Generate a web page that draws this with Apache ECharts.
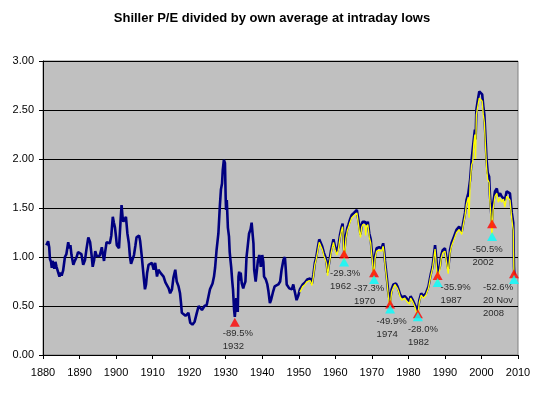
<!DOCTYPE html>
<html><head><meta charset="utf-8">
<script src="https://cdn.jsdelivr.net/npm/echarts@6/dist/echarts.min.js"></script>
<style>html,body{margin:0;padding:0;background:#fff}#c{width:544px;height:395px}</style>
</head><body><div id="c"></div>
<script>
const chartTitle = "Shiller P/E divided by own average at intraday lows";
const xMin = 1880, xMax = 2010, xStep = 10;
const yMin = 0, yMax = 3, yStep = 0.5;

// Shiller P/E / own average (month-end), [year, value]
const navyPoints = [
[1880.9,1.12],[1881.1,1.10],[1881.4,1.16],[1881.7,1.10],[1881.9,0.98],[1882.2,0.95],[1882.4,0.89],[1882.6,0.96],
[1882.8,0.93],[1883.1,0.88],[1883.4,0.95],[1883.7,0.90],[1884.0,0.92],[1884.5,0.80],[1884.8,0.84],[1885.1,0.81],
[1885.5,0.86],[1886.0,1.00],[1886.4,1.03],[1886.9,1.15],[1887.2,1.09],[1887.5,1.12],[1887.8,1.02],[1888.3,0.92],
[1888.7,0.96],[1889.2,1.00],[1889.6,1.05],[1890.1,1.06],[1890.5,1.03],[1891.0,0.92],[1891.5,0.97],[1891.9,1.08],
[1892.4,1.20],[1892.7,1.22],[1892.9,1.15],[1893.3,1.02],[1893.6,0.90],[1894.0,0.97],[1894.3,1.06],[1894.7,1.01],
[1895.1,1.03],[1895.5,1.01],[1896.1,1.10],[1896.4,1.02],[1896.7,0.96],[1897.0,1.05],[1897.4,1.15],[1897.8,1.13],
[1898.3,1.14],[1898.7,1.22],[1899.1,1.41],[1899.4,1.35],[1899.7,1.30],[1900.0,1.20],[1900.2,1.12],[1900.6,1.14],
[1900.8,1.09],[1901.2,1.35],[1901.5,1.53],[1901.8,1.40],[1902.0,1.36],[1902.4,1.38],[1902.7,1.41],[1903.1,1.24],
[1903.5,1.14],[1903.8,1.00],[1904.1,0.93],[1904.5,0.95],[1904.9,1.02],[1905.3,1.12],[1905.6,1.20],[1906.0,1.21],
[1906.3,1.22],[1906.6,1.16],[1907.0,1.02],[1907.3,0.90],[1907.6,0.78],[1907.9,0.67],[1908.2,0.72],[1908.5,0.84],
[1908.9,0.92],[1909.4,0.92],[1909.8,0.94],[1910.3,0.87],[1910.7,0.94],[1911.2,0.80],[1911.6,0.87],[1912.1,0.84],
[1912.5,0.85],[1913.0,0.80],[1913.5,0.74],[1913.9,0.72],[1914.4,0.68],[1914.8,0.63],[1915.3,0.67],[1915.7,0.79],
[1916.2,0.87],[1916.6,0.75],[1917.1,0.70],[1917.5,0.63],[1917.8,0.52],[1918.0,0.43],[1918.5,0.41],[1919.0,0.40],
[1919.4,0.39],[1919.8,0.43],[1920.3,0.33],[1920.6,0.31],[1920.9,0.31],[1921.2,0.33],[1921.5,0.34],[1922.1,0.43],
[1922.6,0.50],[1923.0,0.51],[1923.5,0.46],[1923.9,0.48],[1924.2,0.50],[1924.8,0.51],[1925.3,0.60],[1925.7,0.67],
[1926.1,0.69],[1926.4,0.73],[1926.8,0.80],[1927.1,0.89],[1927.5,1.07],[1928.0,1.24],[1928.4,1.52],[1928.7,1.69],
[1929.0,1.75],[1929.2,1.89],[1929.5,1.99],[1929.8,1.96],[1930.0,1.60],[1930.1,1.48],[1930.3,1.58],[1930.6,1.30],
[1930.9,1.21],[1931.1,1.05],[1931.3,0.97],[1931.5,0.90],[1931.8,0.75],[1932.0,0.67],[1932.3,0.46],[1932.5,0.39],
[1932.9,0.58],[1933.1,0.48],[1933.3,0.44],[1933.5,0.80],[1933.7,0.85],[1933.9,0.76],[1934.1,0.84],[1934.4,0.73],
[1934.8,0.68],[1935.1,0.72],[1935.4,0.75],[1935.7,1.00],[1936.0,1.10],[1936.4,1.24],[1936.8,1.28],[1937.1,1.35],
[1937.4,1.22],[1937.6,1.14],[1937.8,0.87],[1938.2,0.75],[1938.5,0.85],[1938.8,0.96],[1939.2,1.02],[1939.4,0.98],
[1939.6,0.90],[1940.0,1.02],[1940.3,0.95],[1940.5,0.80],[1940.8,0.82],[1941.0,0.77],[1941.4,0.72],[1941.7,0.65],
[1942.1,0.53],[1942.4,0.56],[1942.6,0.58],[1943.0,0.65],[1943.4,0.70],[1943.8,0.68],[1944.4,0.72],[1944.9,0.75],
[1945.3,0.87],[1945.8,0.97],[1946.2,1.00],[1946.4,0.90],[1946.7,0.72],[1947.0,0.70],[1947.4,0.68],[1947.8,0.66],
[1948.1,0.67],[1948.5,0.72],[1948.7,0.68],[1949.0,0.63],[1949.4,0.56],[1949.9,0.61],[1950.3,0.67],[1950.7,0.69],
[1951.1,0.72],[1951.7,0.74],[1952.3,0.77],[1952.8,0.78],[1953.1,0.78],[1953.6,0.73],[1954.0,0.82],[1954.4,0.94],
[1954.8,1.00],[1955.1,1.07],[1955.6,1.18],[1956.0,1.20],[1956.4,1.11],[1956.9,1.04],[1957.3,1.00],[1957.6,0.96],
[1957.9,0.84],[1958.3,0.94],[1958.8,1.06],[1959.2,1.13],[1959.5,1.18],[1959.9,1.11],[1960.4,1.05],[1960.8,1.10],
[1961.3,1.23],[1961.7,1.30],[1962.0,1.34],[1962.2,1.20],[1962.45,1.05],[1962.9,1.22],[1963.3,1.30],[1963.6,1.33],
[1964.0,1.38],[1964.5,1.43],[1965.1,1.45],[1965.5,1.44],[1965.9,1.48],[1966.3,1.47],[1966.6,1.31],[1966.9,1.23],
[1967.2,1.33],[1967.5,1.36],[1968.1,1.36],[1968.5,1.33],[1968.9,1.36],[1969.3,1.24],[1969.7,1.18],[1969.9,1.09],
[1970.2,0.98],[1970.5,0.86],[1970.9,1.02],[1971.3,1.09],[1971.7,1.11],[1972.0,1.10],[1972.4,1.11],[1972.7,1.09],
[1973.1,1.14],[1973.4,1.05],[1973.6,0.96],[1974.1,0.79],[1974.5,0.64],[1974.95,0.54],[1975.4,0.67],[1975.9,0.72],
[1976.3,0.74],[1976.6,0.73],[1977.0,0.70],[1977.3,0.67],[1977.7,0.62],[1978.2,0.59],[1978.6,0.58],[1979.0,0.60],
[1979.3,0.58],[1979.7,0.57],[1980.0,0.56],[1980.3,0.55],[1980.6,0.60],[1980.9,0.59],[1981.2,0.56],[1981.5,0.54],
[1981.8,0.51],[1982.2,0.49],[1982.55,0.45],[1983.0,0.56],[1983.5,0.63],[1983.8,0.62],[1984.1,0.60],[1984.5,0.61],
[1984.8,0.63],[1985.2,0.67],[1985.5,0.70],[1985.9,0.78],[1986.1,0.82],[1986.6,0.90],[1986.9,0.92],[1987.3,1.12],
[1987.7,1.11],[1988.0,0.84],[1988.3,0.86],[1988.6,0.90],[1989.0,1.02],[1989.4,1.07],[1990.0,1.09],[1990.5,1.07],
[1990.9,0.88],[1991.4,1.07],[1991.8,1.14],[1992.5,1.21],[1993.2,1.28],[1993.9,1.31],[1994.6,1.26],[1995.0,1.35],
[1995.5,1.45],[1995.9,1.58],[1996.4,1.65],[1996.9,1.79],[1997.3,1.99],[1997.6,2.01],[1997.9,2.20],[1998.2,2.30],
[1998.4,2.20],[1998.6,2.50],[1999.0,2.60],[1999.4,2.69],[1999.8,2.71],[2000.2,2.66],[2000.5,2.54],[2000.8,2.45],
[2001.0,2.30],[2001.4,1.99],[2001.7,1.86],[2002.1,1.82],[2002.3,1.65],[2002.6,1.48],[2002.85,1.36],[2003.2,1.55],
[2003.7,1.67],[2004.2,1.70],[2004.6,1.62],[2005.1,1.65],[2005.5,1.62],[2006.0,1.64],[2006.4,1.58],[2006.9,1.67],
[2007.4,1.69],[2007.8,1.65],[2008.3,1.45],[2008.7,1.35],[2008.9,0.90],[2009.0,0.82]
];

// Same ratio at intraday lows, [year, value]
const yellowPoints = [
[1950.3,0.64],[1950.7,0.67],[1951.1,0.70],[1951.7,0.72],[1952.3,0.75],[1952.8,0.76],[1953.1,0.76],[1953.6,0.71],
[1954.0,0.80],[1954.4,0.92],[1954.8,0.98],[1955.1,1.04],[1955.6,1.15],[1956.0,1.17],[1956.4,1.08],[1956.9,1.01],
[1957.3,0.97],[1957.6,0.93],[1957.9,0.81],[1958.3,0.92],[1958.8,1.03],[1959.2,1.10],[1959.5,1.15],[1959.9,1.08],
[1960.4,1.02],[1960.8,1.07],[1961.3,1.20],[1961.7,1.27],[1962.0,1.31],[1962.2,1.15],[1962.45,0.95],[1962.9,1.19],
[1963.3,1.27],[1963.6,1.30],[1964.0,1.35],[1964.5,1.40],[1965.1,1.42],[1965.5,1.41],[1965.9,1.45],[1966.3,1.44],
[1966.6,1.26],[1966.9,1.20],[1967.2,1.30],[1967.5,1.33],[1968.1,1.33],[1968.3,1.22],[1968.5,1.30],[1968.9,1.33],
[1969.3,1.20],[1969.7,1.14],[1969.9,1.05],[1970.2,0.94],[1970.5,0.77],[1970.9,0.99],[1971.3,1.06],[1971.7,1.08],
[1972.0,1.07],[1972.4,1.08],[1972.7,1.06],[1973.1,1.11],[1973.4,1.02],[1973.6,0.93],[1974.1,0.76],[1974.5,0.61],
[1974.95,0.47],[1975.4,0.64],[1975.9,0.69],[1976.3,0.72],[1976.6,0.71],[1977.0,0.68],[1977.3,0.65],[1977.7,0.60],
[1978.2,0.56],[1978.6,0.56],[1979.0,0.58],[1979.3,0.56],[1979.7,0.54],[1980.0,0.53],[1980.3,0.52],[1980.6,0.58],
[1980.9,0.57],[1981.2,0.54],[1981.5,0.52],[1981.8,0.49],[1982.2,0.47],[1982.55,0.39],[1983.0,0.54],[1983.5,0.61],
[1983.8,0.60],[1984.1,0.58],[1984.5,0.59],[1984.8,0.61],[1985.2,0.65],[1985.5,0.68],[1985.9,0.76],[1986.1,0.80],
[1986.6,0.88],[1986.9,0.90],[1987.3,1.08],[1987.7,1.08],[1988.0,0.74],[1988.3,0.83],[1988.6,0.87],[1989.0,0.99],
[1989.4,1.04],[1990.0,1.06],[1990.5,1.04],[1990.9,0.83],[1991.4,1.04],[1991.8,1.11],[1992.5,1.18],[1993.2,1.25],
[1993.9,1.28],[1994.6,1.23],[1995.0,1.32],[1995.5,1.42],[1995.9,1.54],[1996.4,1.61],[1996.6,1.40],[1996.9,1.75],
[1997.3,1.94],[1997.6,1.97],[1997.9,2.15],[1998.2,2.25],[1998.4,2.00],[1998.6,2.45],[1999.0,2.54],[1999.4,2.62],
[1999.8,2.64],[2000.2,2.59],[2000.5,2.45],[2000.8,2.37],[2001.0,2.21],[2001.4,1.91],[2001.7,1.79],[2002.1,1.76],
[2002.3,1.58],[2002.6,1.41],[2002.85,1.21],[2003.2,1.49],[2003.7,1.62],[2004.2,1.65],[2004.6,1.56],[2005.1,1.60],
[2005.5,1.56],[2006.0,1.59],[2006.4,1.51],[2006.9,1.62],[2007.4,1.63],[2007.8,1.58],[2008.3,1.39],[2008.7,1.27],
[2008.9,0.77]
];

// Bear-market lows
const lowYears   = [1932.5, 1962.4, 1970.6, 1975.0, 1982.6, 1988.0, 2002.9, 2008.9];
const redValues  = [0.335, 1.03, 0.84, 0.52, 0.42, 0.81, 1.34, 0.83];
const cyanYears  = [1962.4, 1970.6, 1975.0, 1982.6, 1988.0, 2002.9, 2008.9];
const cyanValues = [0.95, 0.77, 0.47, 0.39, 0.74, 1.21, 0.77];
const dropLabels = ["-89.5%", "-29.3%", "-37.3%", "-49.9%", "-28.0%", "-35.9%", "-50.5%", "-52.6%"];
const dateLabels = ["1932", "1962", "1970", "1974", "1982", "1987", "2002", "20 Nov\n2008"];

// label placement (pixels from marker centre) - styling only
const labelOffsets = [[-12,5],[-14,13],[-20,9],[-13.5,11],[-10,9],[3,5],[-19.5,19],[-31,7]];

const FONT = "'Liberation Sans', Arial, sans-serif";
const chart = echarts.init(document.getElementById('c'), null, {renderer:'canvas', width:544, height:395});

const redData = lowYears.map((yr, i) => ({
  value: [yr, redValues[i]],
  label: { offset: labelOffsets[i], formatter: dropLabels[i] + "\n" + dateLabels[i] }
}));
const cyanData = cyanYears.map((yr, i) => [yr, cyanValues[i]]);

chart.setOption({
  animation: false,
  backgroundColor: '#ffffff',
  title: {
    text: chartTitle, left: 'center', top: 7,
    textStyle: { fontFamily: FONT, fontSize: 13, fontWeight: 'bold', color: '#000' }
  },
  grid: { left: 43, right: 26, top: 61, bottom: 40, show: true, backgroundColor: '#c0c0c0', borderColor: '#808080', borderWidth: 1 },
  xAxis: {
    type: 'value', min: xMin, max: xMax, interval: xStep,
    axisLine: { show: true, onZero: false, lineStyle: { color: '#000', width: 1 } },
    axisTick: { show: true, inside: false, length: 4, lineStyle: { color: '#000' } },
    axisLabel: { fontFamily: FONT, fontSize: 11, color: '#000', margin: 12, formatter: v => String(v) },
    splitLine: { show: false }
  },
  yAxis: {
    type: 'value', min: yMin, max: yMax, interval: yStep,
    axisLine: { show: true, lineStyle: { color: '#000', width: 1 } },
    axisTick: { show: true, inside: false, length: 4, lineStyle: { color: '#000' } },
    axisLabel: { fontFamily: FONT, fontSize: 11, color: '#000', margin: 9, formatter: v => v.toFixed(2) },
    splitLine: { show: true, lineStyle: { color: '#000', width: 1 } }
  },
  series: [
    { type: 'line', data: navyPoints, showSymbol: false, symbol: 'none', lineStyle: { color: '#000080', width: 2.6 }, z: 2 },
    { type: 'line', data: yellowPoints, showSymbol: false, symbol: 'none', lineStyle: { color: '#ffff00', width: 1.3 }, z: 3 },
    { type: 'scatter', data: redData, symbol: 'triangle', symbolSize: [10, 9], itemStyle: { color: '#ff0000' }, z: 4,
      label: { show: true, position: 'inside', align: 'left', verticalAlign: 'top', fontFamily: FONT, fontSize: 9.5, lineHeight: 13, color: '#000' } },
    { type: 'scatter', data: cyanData, symbol: 'triangle', symbolSize: [10, 9], itemStyle: { color: '#00ffff' }, z: 5 }
  ]
});
</script></body></html>
